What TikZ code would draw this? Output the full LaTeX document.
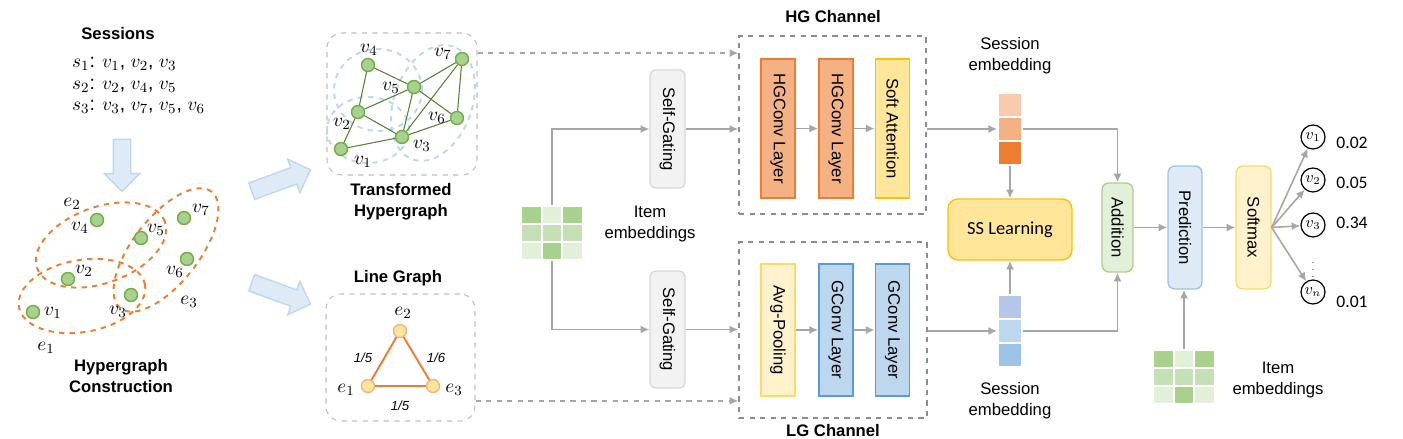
\documentclass[tikz,border=0pt]{standalone}
\usepackage[no-math]{fontspec}
\setmainfont{Liberation Sans}
\newfontfamily\calibri{Carlito}
\usepackage{graphicx}
\usepackage{tikz}
\usetikzlibrary{arrows.meta,shapes.arrows}

\definecolor{arrgray}{HTML}{A6A6A6}
\definecolor{boxgray}{HTML}{8C8C8C}
\definecolor{panelgray}{HTML}{BFBFBF}
\definecolor{orgdark}{HTML}{ED7D31}
\definecolor{orgmid}{HTML}{F4B183}
\definecolor{orglight}{HTML}{F8CBAD}
\definecolor{ylwdark}{HTML}{FFC000}
\definecolor{ylwmid}{HTML}{FFE699}
\definecolor{ylwedge}{HTML}{FFD966}
\definecolor{ylwlight}{HTML}{FFF2CC}
\definecolor{bluedark}{HTML}{5B9BD5}
\definecolor{bluemid}{HTML}{9DC3E6}
\definecolor{bluelight}{HTML}{BDD7EE}
\definecolor{bluepale}{HTML}{DEEBF7}
\definecolor{bluegrey}{HTML}{B4C7E7}
\definecolor{grndark}{HTML}{A9D18E}
\definecolor{grnmid}{HTML}{C5E0B4}
\definecolor{grnlight}{HTML}{E2F0D9}
\definecolor{grnedge}{HTML}{70AD47}
\definecolor{grnline}{HTML}{548235}
\definecolor{gatefill}{HTML}{F2F2F2}
\definecolor{gateedge}{HTML}{D9D9D9}

\tikzset{
    >={Latex[length=5pt,width=4.6pt]},
    title/.style = {
        font=\fontsize{9.5}{12}\selectfont\bfseries,
        align=center
    },
    txt/.style = {
        align=center
    },
    vlab/.style = {
        font=\fontsize{11}{13}\selectfont
    },
    layer/.style = {
        draw,
        shape=rectangle,
        minimum width=0.68cm,
        minimum height=2.78cm,
        inner sep=0pt,
        line width=1pt
    },
    gate/.style = {
        draw=gateedge,
        fill=gatefill,
        shape=rectangle,
        rounded corners=0.12cm,
        minimum width=0.7cm,
        minimum height=2.36cm,
        inner sep=0pt,
        line width=0.8pt
    },
    tall/.style = {
        shape=rectangle,
        rounded corners=0.14cm,
        minimum width=0.68cm,
        minimum height=2.46cm,
        inner sep=0pt,
        line width=0.8pt
    },
    chan/.style = {
        draw=boxgray,
        dashed,
        shape=rectangle,
        line width=0.8pt
    },
    panel/.style = {
        draw=panelgray,
        dashed,
        shape=rectangle,
        rounded corners=0.3cm,
        line width=0.6pt
    },
    arr/.style = {
        draw=arrgray,
        line width=0.9pt,
        ->
    },
    dasharr/.style = {
        arr,
        dashed
    },
    hv/.style = {
        draw=grnedge,
        fill=grndark,
        shape=circle,
        minimum size=0.26cm,
        inner sep=0pt,
        line width=0.8pt
    },
    lv/.style = {
        draw=orgmid,
        fill=ylwmid,
        shape=circle,
        minimum size=0.26cm,
        inner sep=0pt,
        line width=0.8pt
    },
    hedge/.style = {
        draw=orgdark,
        dashed,
        line width=1.1pt
    },
    tedge/.style = {
        draw=bluelight,
        dashed,
        line width=1.1pt
    },
    cell/.style = {
        draw=white,
        shape=rectangle,
        minimum width=0.41cm,
        minimum height=0.36cm,
        inner sep=0pt,
        line width=1.3pt
    },
    ecell/.style = {
        draw=white,
        shape=rectangle,
        minimum size=0.48cm,
        inner sep=0pt,
        line width=1pt
    },
    barrow/.style = {
        draw=bluelight,
        fill=bluepale,
        shape=single arrow,
        single arrow head extend=0.18cm,
        single arrow tip angle=90,
        inner xsep=0pt,
        inner ysep=0.16cm,
        line width=0.8pt
    },
    outv/.style = {
        draw,
        shape=circle,
        minimum size=0.48cm,
        inner sep=0pt,
        line width=0.7pt,
        font=\fontsize{9}{10}\selectfont
    },
}

\begin{document}
\begin{tikzpicture}[x=0.02cm, y=-0.02cm, font=\fontsize{9.5}{12}\selectfont]
                \useasboundingbox (0,0) rectangle (1403,439);

                % sessions and hypergraph construction
                \node[title] (sess) at (118,34) {Sessions};
                \node[vlab, anchor=west] (s1) at (66,64) {$s_1$: $v_1$, $v_2$, $v_3$};
                \node[vlab, anchor=west] (s2) at (66,86) {$s_2$: $v_2$, $v_4$, $v_5$};
                \node[vlab, anchor=west] (s3) at (66,107) {$s_3$: $v_3$, $v_7$, $v_5$, $v_6$};
                \node[barrow, rotate=-90, minimum height=1.04cm] (down) at (122,161) {};

                \draw[hedge, rotate around={20:(101,245)}] (101,245) ellipse [x radius=1.36cm, y radius=0.76cm];
                \draw[hedge, rotate around={10:(82,296)}] (82,296) ellipse [x radius=1.28cm, y radius=0.72cm];
                \draw[hedge, rotate around={52:(166,250)}] (166,250) ellipse [x radius=1.48cm, y radius=0.66cm];

                \node[hv] (hv1) at (33,312) {};
                \node[hv] (hv2) at (68,279) {};
                \node[hv] (hv3) at (131,295) {};
                \node[hv] (hv4) at (97,220) {};
                \node[hv] (hv5) at (141,238) {};
                \node[hv] (hv6) at (187,259) {};
                \node[hv] (hv7) at (184,218) {};
                \node[vlab] (hl1) at (53,313) {$v_1$};
                \node[vlab] (hl2) at (84,271) {$v_2$};
                \node[vlab] (hl3) at (118,312) {$v_3$};
                \node[vlab] (hl4) at (80,228) {$v_4$};
                \node[vlab] (hl5) at (156,230) {$v_5$};
                \node[vlab] (hl6) at (175,272) {$v_6$};
                \node[vlab] (hl7) at (201,210) {$v_7$};
                \node[vlab] (he1) at (46,348) {$e_1$};
                \node[vlab] (he2) at (72,204) {$e_2$};
                \node[vlab] (he3) at (189,302) {$e_3$};
                \node[title] (hgc) at (121,376) {Hypergraph\\Construction};

                \node[barrow, rotate=20, minimum height=1.25cm] (upa) at (277,182) {};
                \node[barrow, rotate=-20, minimum height=1.25cm] (lowa) at (277,292) {};

                % transformed hypergraph
                \node[panel, minimum width=3cm, minimum height=2.84cm] (thpanel) at (402,104) {};
                \draw[tedge] (378,90) ellipse [x radius=0.88cm, y radius=0.82cm];
                \draw[tedge] (368,130) ellipse [x radius=0.82cm, y radius=0.66cm];
                \draw[tedge, rotate around={70:(433,103)}] (433,103) ellipse [x radius=1.2cm, y radius=0.78cm];
                \node[hv] (tv1) at (341,149) {};
                \node[hv] (tv2) at (358,112) {};
                \node[hv] (tv3) at (402,137) {};
                \node[hv] (tv4) at (368,65) {};
                \node[hv] (tv5) at (414,87) {};
                \node[hv] (tv6) at (457,118) {};
                \node[hv] (tv7) at (462,59) {};
                \foreach \a/\b in {4/2, 4/5, 5/2, 5/3, 5/6, 5/7, 7/3, 7/6, 2/3, 2/1, 1/3, 3/6}
                    \draw[grnline, line width=0.6pt] (tv\a) -- (tv\b);
                \node[vlab] (tl1) at (363,162) {$v_1$};
                \node[vlab] (tl2) at (342,124) {$v_2$};
                \node[vlab] (tl3) at (422,146) {$v_3$};
                \node[vlab] (tl4) at (369,50) {$v_4$};
                \node[vlab] (tl5) at (391,88) {$v_5$};
                \node[vlab] (tl6) at (437,118) {$v_6$};
                \node[vlab] (tl7) at (443,54) {$v_7$};
                \node[title] (thtitle) at (401,202) {Transformed\\Hypergraph};

                % line graph
                \node[title] (lgtitle) at (398,278) {Line Graph};
                \node[panel, minimum width=2.98cm, minimum height=2.54cm] (lgpanel) at (400.5,357.5) {};
                \node[lv] (le1) at (368,386) {};
                \node[lv] (le2) at (400,331) {};
                \node[lv] (le3) at (433,386) {};
                \draw[orgdark, line width=1.1pt] (le1) -- (le2) -- (le3) -- (le1);
                \node[vlab] (lel1) at (346,390) {$e_1$};
                \node[vlab] (lel2) at (403,313) {$e_2$};
                \node[vlab] (lel3) at (454,390) {$e_3$};
                \node[font=\fontsize{7.5}{9}\selectfont\itshape] (w12) at (363,358) {1/5};
                \node[font=\fontsize{7.5}{9}\selectfont\itshape] (w23) at (436,358) {1/6};
                \node[font=\fontsize{7.5}{9}\selectfont\itshape] (w13) at (400,406) {1/5};

                % item embeddings and self-gating
                \foreach \r/\cols in {1/{grndark,grnlight,grndark}, 2/{grnmid,grnmid,grnmid}, 3/{grnlight,grndark,grnlight}}
                    \foreach \c [count=\j] in \cols
                        \node[cell, fill=\c] (ig-\r-\j) at (511+20.5*\j, 197+18*\r) {};
                \node[txt] (igtext) at (650,224) {Item\\embeddings};
                \node[gate] (sg1) at (667.5,129) {\rotatebox{-90}{Self-Gating}};
                \node[gate, minimum height=2.34cm] (sg2) at (667.5,329.5) {\rotatebox{-90}{Self-Gating}};

                % channels
                \node[chan, minimum width=3.74cm, minimum height=3.56cm] (hgchan) at (832.5,125) {};
                \node[chan, minimum width=3.76cm, minimum height=3.52cm] (lgchan) at (833,330) {};
                \node[title] (hgtitle) at (833,17) {HG Channel};
                \node[title] (lgtitle2) at (833,431) {LG Channel};
                \node[layer, draw=orgdark, fill=orgmid] (hgc1) at (778,128.5) {\rotatebox{-90}{HGConv Layer}};
                \node[layer, draw=orgdark, fill=orgmid] (hgc2) at (836,128.5) {\rotatebox{-90}{HGConv Layer}};
                \node[layer, draw=ylwdark, fill=ylwmid] (satt) at (892.5,128.5) {\rotatebox{-90}{Soft Attention}};
                \node[layer, draw=ylwedge, fill=ylwlight, minimum height=2.64cm] (avgp) at (778,330) {\rotatebox{-90}{Avg-Pooling}};
                \node[layer, draw=bluedark, fill=bluelight, minimum height=2.64cm] (gc1) at (836,330) {\rotatebox{-90}{GConv Layer}};
                \node[layer, draw=bluedark, fill=bluelight, minimum height=2.64cm] (gc2) at (892.5,330) {\rotatebox{-90}{GConv Layer}};

                % session embeddings
                \foreach \c [count=\j] in {orglight,orgmid,orgdark}
                    \node[ecell, fill=\c] (se1-\j) at (1010,81+24*\j) {};
                \foreach \c [count=\j] in {bluegrey,bluelight,bluemid}
                    \node[ecell, fill=\c] (se2-\j) at (1010,283+24*\j) {};
                \node[txt] (se1text) at (1010,56) {Session\\embedding};
                \node[txt] (se2text) at (1010,401) {Session\\embedding};
                \node[draw=ylwdark, fill=ylwmid, rounded corners=0.2cm, minimum width=2.48cm, minimum height=1.22cm, line width=0.8pt, font=\calibri\fontsize{10.5}{12}\selectfont] (ssl) at (1010,229.5) {SS Learning};

                % prediction
                \node[tall, draw=grndark, fill=grnlight, minimum width=0.62cm, minimum height=1.78cm] (add) at (1117.5,227.5) {\rotatebox{-90}{Addition}};
                \node[tall, draw=bluemid, fill=bluepale] (pred) at (1185,227.5) {\rotatebox{-90}{Prediction}};
                \node[tall, draw=ylwedge, fill=ylwlight, minimum width=0.7cm] (soft) at (1253.5,227.5) {\rotatebox{-90}{Softmax}};
                \foreach \r/\cols in {1/{grndark,grnlight,grndark}, 2/{grnmid,grnmid,grnmid}, 3/{grnlight,grndark,grnlight}}
                    \foreach \c [count=\j] in \cols
                        \node[cell, fill=\c] (rg-\r-\j) at (1143+20.5*\j, 341+18*\r) {};
                \node[txt] (rgtext) at (1278,380) {Item\\embeddings};

                \node[outv] (o1) at (1313,137) {$v_1$};
                \node[outv] (o2) at (1313,180) {$v_2$};
                \node[outv] (o3) at (1313,225) {$v_3$};
                \node[outv] (on) at (1313,292) {$v_n$};
                \node[font=\tiny] (odots) at (1313,265) {$\vdots$};
                \node[font=\calibri\fontsize{10}{12}\selectfont] (p1) at (1352,143) {0.02};
                \node[font=\calibri\fontsize{10}{12}\selectfont] (p2) at (1352,183) {0.05};
                \node[font=\calibri\fontsize{10}{12}\selectfont] (p3) at (1352,223) {0.34};
                \node[font=\calibri\fontsize{10}{12}\selectfont] (pn) at (1352,302) {0.01};

                % connectors
                \path[dasharr] (thpanel.34) -- (thpanel.34 -| hgchan.west);
                \path[dasharr] (lgpanel.-30) -- (lgpanel.-30 -| lgchan.west);
                \path[arr] (ig-1-2.north) |- (sg1);
                \path[arr] (ig-3-2.south) |- (sg2);
                \path[arr] (sg1) -- (sg1 -| hgchan.west);
                \path[arr] (sg2) -- (sg2 -| lgchan.west);
                \path[arr] (hgc1) -- (hgc2);
                \path[arr] (hgc2) -- (satt);
                \path[arr] (avgp) -- (gc1);
                \path[arr] (gc1) -- (gc2);
                \path[arr] (se1-2 -| hgchan.east) -- (se1-2);
                \path[arr] (se2-2 -| lgchan.east) -- (se2-2);
                \path[arr] (se1-3) -- (ssl);
                \path[arr] (se2-1) -- (ssl);
                \path[arr] (se1-2) -| (add);
                \path[arr] (se2-2) -| (add);
                \path[arr] (add) -- (pred);
                \path[arr] (pred) -- (soft);
                \path[arr] (rg-1-2.north) -- (rg-1-2.north |- pred.south);
                \foreach \o in {o1,o2,o3,on}
                    \path[arr] (soft.east) -- (\o);
            \end{tikzpicture}
\end{document}
